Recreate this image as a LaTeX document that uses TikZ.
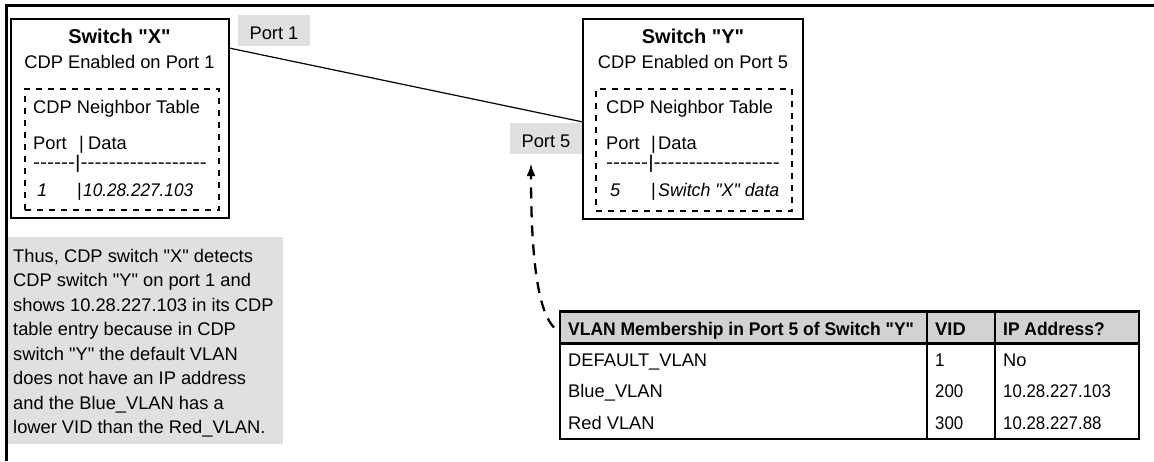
\documentclass[tikz,border=0pt]{standalone}
\usepackage{fontspec}
\setmainfont{Liberation Sans}[Ligatures=TeXOff]
\usetikzlibrary{arrows.meta,calc}
\definecolor{lgray}{HTML}{E0E0E0}
\definecolor{hgray}{HTML}{D2D2D2}
\newcommand{\fs}{\fontsize{18.3pt}{24.5pt}\selectfont}
\newcommand{\tfs}{\fontsize{20pt}{24pt}\selectfont\bfseries}
\newcommand{\dg}[1]{\scalebox{0.92}[1]{#1}}
\begin{document}
\begin{tikzpicture}[x=1pt,y=-1pt,
  txt/.style={anchor=base west, inner sep=0pt, font=\fs},
  itxt/.style={anchor=base west, inner sep=0pt, font=\fs\itshape},
  btxt/.style={anchor=base west, inner sep=0pt, font=\fs\bfseries},
  ctxt/.style={anchor=base, inner sep=0pt, font=\fs},
  swbox/.style={draw, line width=2pt, anchor=north west, inner sep=0pt, outer sep=0pt},
  dbox/.style={draw, line width=2.7pt, dash pattern=on 6pt off 6pt, anchor=north west, inner sep=0pt, outer sep=0pt},
  portlbl/.style={fill=lgray, minimum width=72pt, minimum height=31pt, inner sep=0pt, font=\fs, text height=18pt, text depth=0pt},
  link/.style={line width=1.2pt},
  darrow/.style={line width=2.3pt, dash pattern=on 11pt off 8pt, -{Latex[length=13pt,width=9pt]}},
]
\useasboundingbox (0,0) rectangle (1154,461);
% frame
\draw[line width=3pt] (6,461) -- (6,5.5) -- (1154,5.5);

% Switch X
\node[swbox, minimum width=218pt, minimum height=199pt] (swx) at (11,19) {};
\node[dbox, minimum width=194pt, minimum height=121pt] (tbx) at (25,89) {};
\node[ctxt, font=\tfs] (swxt) at (119.5,43) {Switch "X"};
\node[ctxt] (swxs) at (119.5,68) {CDP Enabled on Port 1};
\node[txt] (nbx) at (33,113) {CDP Neighbor Table};
\node[txt] (phx) at (33,149) {Port};
\node[txt] (bx1) at (79,149) {|};
\node[txt] (dhx) at (88,149) {Data};
\node[txt] (hyx) at (33,168.5) {\scalebox{1.15}[1]{------|------------------}};
\node[itxt] (r1x) at (37,196) {1};
\node[txt] (bx2) at (77,196) {|};
\node[itxt] (ipx) at (83,196) {\scalebox{0.94}[1]{10.28.227.103}};

% Switch Y
\node[swbox, minimum width=220pt, minimum height=200pt] (swy) at (583,19) {};
\node[dbox, minimum width=196pt, minimum height=122pt] (tby) at (596,89) {};
\node[ctxt, font=\tfs] (swyt) at (693,43) {Switch "Y"};
\node[ctxt] (swys) at (693,68) {CDP Enabled on Port 5};
\node[txt] (nby) at (606,113) {CDP Neighbor Table};
\node[txt] (phy) at (606,149) {Port};
\node[txt] (by1) at (651,149) {|};
\node[txt] (dhy) at (658,149) {Data};
\node[txt] (hyy) at (606,168.5) {\scalebox{1.15}[1]{------|------------------}};
\node[itxt] (r1y) at (610,196) {5};
\node[txt] (by2) at (651,196) {|};
\node[itxt] (sxd) at (658,196) {\scalebox{0.97}[1]{Switch "X" data}};

% port labels
\node[portlbl] (p1) at (274,30) {Port 1};
\node[portlbl] (p5) at (546,138.5) {Port 5};

% link
\draw[link] ($(swx.north east)+(0,29)$) -- ($(swy.north west)+(0,103)$);

% note
\node[fill=lgray, anchor=north west, minimum width=275pt, minimum height=207pt, inner sep=0pt] (note) at (8,237) {};
\node[anchor=north west, inner sep=0pt, align=left, font=\fs] (notet) at (13,248.6) {Thus, CDP switch "X" detects\\CDP switch "Y" on port 1 and\\shows 10.28.227.103 in its CDP\\table entry because in CDP\\switch "Y" the default VLAN\\does not have an IP address\\and the Blue\_VLAN has a\\lower VID than the Red\_VLAN.};

% table
\node[fill=hgray, anchor=north west, minimum width=579pt, minimum height=32pt, inner sep=0pt, outer sep=0pt] (hdr) at (560,311.5) {};
\node[draw, line width=2.5pt, anchor=north west, minimum width=579pt, minimum height=127.5pt, inner sep=0pt, outer sep=0pt] (tbl) at (560,311.5) {};
\draw[line width=2.5pt] (hdr.south west) -- (hdr.south east);
\draw[line width=2pt] ($(tbl.north west)+(366.5,0)$) -- ($(tbl.south west)+(366.5,0)$);
\draw[line width=2pt] ($(tbl.north west)+(435,0)$) -- ($(tbl.south west)+(435,0)$);
\node[btxt] (h1) at (568,335) {\scalebox{0.955}[1]{VLAN Membership in Port 5 of Switch "Y"}};
\node[btxt] (h2) at (935,335) {VID};
\node[btxt] (h3) at (1003,335) {\scalebox{0.95}[1]{IP Address?}};
\node[txt] (a1) at (568,366) {DEFAULT\_VLAN};
\node[txt] (a2) at (935,366) {\dg{1}};
\node[txt] (a3) at (1003,366) {No};
\node[txt] (b1) at (568,397.5) {Blue\_VLAN};
\node[txt] (b2) at (935,397.5) {\dg{200}};
\node[txt] (b3) at (1003,397.5) {\dg{10.28.227.103}};
\node[txt] (c1) at (568,429) {Red VLAN};
\node[txt] (c2) at (935,429) {\dg{300}};
\node[txt] (c3) at (1003,429) {\dg{10.28.227.88}};

% dashed arrow
\draw[darrow] ($(hdr.west)+(-6,0)$) .. controls (541,314) and (531,275) .. ($(p5.south)+(-15,9)$);
\end{tikzpicture}
\end{document}
